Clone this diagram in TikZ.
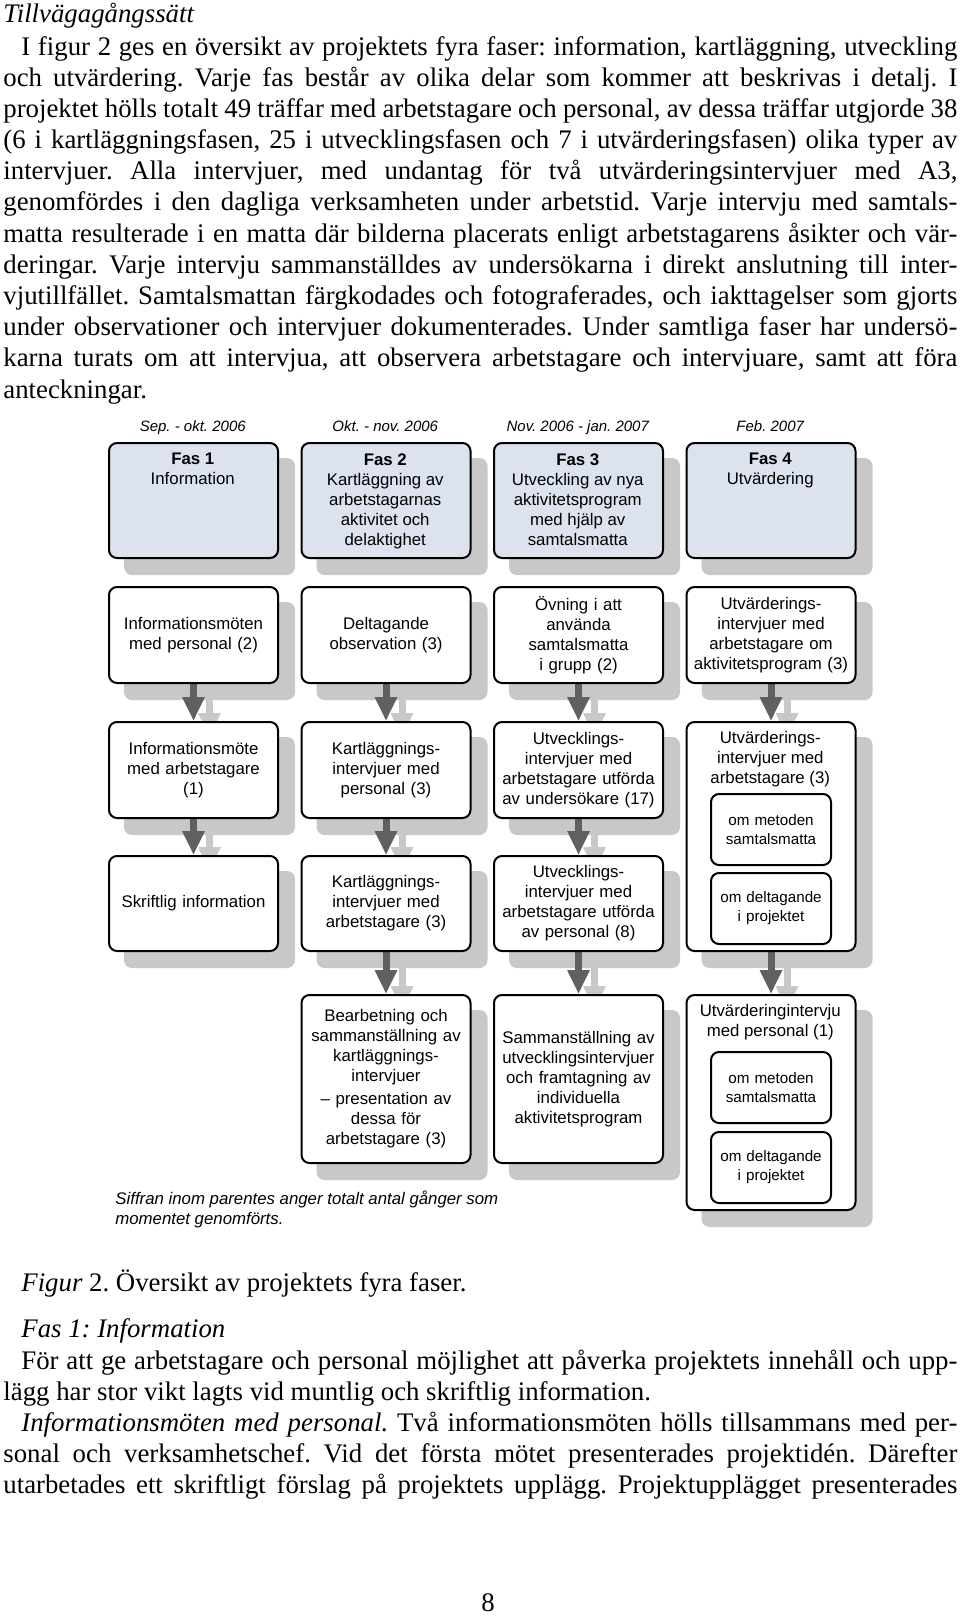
\documentclass[tikz,border=0pt]{standalone}
\usepackage{fontspec}
\setmainfont{Liberation Serif}
\setsansfont{Liberation Sans}
\usetikzlibrary{arrows.meta}
\definecolor{shadowc}{RGB}{200,200,200}
\definecolor{arrowc}{RGB}{96,96,96}
\definecolor{fasfill}{RGB}{220,227,238}
\pgfdeclarelayer{bg}
\pgfdeclarelayer{mid}
\pgfsetlayers{bg,mid,main}
\frenchspacing
\newcommand{\mybodyfont}{\fontsize{13.4}{15.6}\selectfont}
\tikzset{
 body/.style={anchor=base west, inner sep=0pt, font=\mybodyfont},
 boxbase/.style={draw=black, line width=1pt, rounded corners=4pt, fill=white, anchor=north west,
   minimum width=84.5pt, text width=82pt, align=center, inner sep=1.25pt,
   font=\sffamily\fontsize{8.4}{10}\selectfont},
 fasbox/.style={boxbase, fill=fasfill},
 stepbox/.style={boxbase},
 innerbox/.style={draw=black, line width=1pt, rounded corners=4pt, fill=white, anchor=north west,
   minimum width=60pt, minimum height=35.5pt, text width=58pt, align=center, inner sep=1pt,
   font=\sffamily\fontsize{7.6}{9.5}\selectfont},
 datelbl/.style={anchor=base, inner sep=0pt, font=\sffamily\itshape\fontsize{7.5}{9}\selectfont},
 titlelbl/.style={anchor=north, inner sep=0pt, align=center, font=\sffamily\fontsize{8.4}{10}\selectfont},
 notelbl/.style={anchor=base west, inner sep=0pt, font=\sffamily\itshape\fontsize{8.4}{10}\selectfont},
 mainarrow/.style={draw=arrowc, line width=3.5pt, -{Triangle[width=10.5pt,length=12pt]}},
 shadowarrow/.style={draw=shadowc, line width=3.5pt, -{Triangle[width=10.5pt,length=12pt]}},
}
\begin{document}
\frenchspacing
\begin{tikzpicture}[x=0.5pt,y=-0.5pt]
\useasboundingbox (0,0) rectangle (960,1617);
\begin{pgfonlayer}{bg}
\fill[white] (0,0) rectangle (960,1617);
\end{pgfonlayer}

% ---------- body text (top) ----------
\node[body] (p0) at (3,22) {\itshape Tillvägagångssätt};
\node[body] (p1) at (21,55) {\makebox[468pt][s]{I figur 2 ges en översikt av projektets fyra faser: information, kartläggning, utveckling}};
\node[body] (p2) at (3,86) {\makebox[477pt][s]{och utvärdering. Varje fas består av olika delar som kommer att beskrivas i detalj. I}};
\node[body] (p3) at (3,117.2) {\makebox[477pt][s]{projektet hölls totalt 49 träffar med arbetstagare och personal, av dessa träffar utgjorde 38}};
\node[body] (p4) at (3,148.4) {\makebox[477pt][s]{(6 i kartläggningsfasen, 25 i utvecklingsfasen och 7 i utvärderingsfasen) olika typer av}};
\node[body] (p5) at (3,179.6) {\makebox[477pt][s]{intervjuer. Alla intervjuer, med undantag för två utvärderingsintervjuer med A3,}};
\node[body] (p6) at (3,210.8) {\makebox[477pt][s]{genomfördes i den dagliga verksamheten under arbetstid. Varje intervju med samtals-}};
\node[body] (p7) at (3,242) {\makebox[477pt][s]{matta resulterade i en matta där bilderna placerats enligt arbetstagarens åsikter och vär-}};
\node[body] (p8) at (3,273.2) {\makebox[477pt][s]{deringar. Varje intervju sammanställdes av undersökarna i direkt anslutning till inter-}};
\node[body] (p9) at (3,304.4) {\makebox[477pt][s]{vjutillfället. Samtalsmattan färgkodades och fotograferades, och iakttagelser som gjorts}};
\node[body] (p10) at (3,335.6) {\makebox[477pt][s]{under observationer och intervjuer dokumenterades. Under samtliga faser har undersö-}};
\node[body] (p11) at (3,366.8) {\makebox[477pt][s]{karna turats om att intervjua, att observera arbetstagare och intervjuare, samt att föra}};
\node[body] (p12) at (3,398) {anteckningar.};

% ---------- dates ----------
\node[datelbl] (t1) at (192.75,431) {Sep. - okt. 2006};
\node[datelbl] (t2) at (385.25,431) {Okt. - nov. 2006};
\node[datelbl] (t3) at (577.75,431) {Nov. 2006 - jan. 2007};
\node[datelbl] (t4) at (770.25,431) {Feb. 2007};

% ---------- phase boxes ----------
\node[fasbox, minimum height=57.5pt] (f1) at (108,442) {};
\node[fasbox, minimum height=57.5pt] (f2) at (300.5,442) {};
\node[fasbox, minimum height=57.5pt] (f3) at (493,442) {};
\node[fasbox, minimum height=57.5pt] (f4) at (685.5,442) {};
\node[titlelbl] (f1t) at (192.75,453) {\textbf{Fas 1}\\Information};
\node[titlelbl] (f2t) at (385.25,453) {\textbf{Fas 2}\\Kartläggning av\\arbetstagarnas\\aktivitet och\\delaktighet};
\node[titlelbl] (f3t) at (577.75,453) {\textbf{Fas 3}\\Utveckling av nya\\aktivitetsprogram\\med hjälp av\\samtalsmatta};
\node[titlelbl] (f4t) at (770.25,453) {\textbf{Fas 4}\\Utvärdering};

% ---------- row 2 ----------
\node[stepbox, minimum height=48pt] (a1) at (108,586) {Informationsmöten\\med personal (2)};
\node[stepbox, minimum height=48pt] (a2) at (300.5,586) {Deltagande\\observation (3)};
\node[stepbox, minimum height=48pt] (a3) at (493,586) {Övning i att\\använda\\samtalsmatta\\i grupp (2)};
\node[stepbox, minimum height=48pt] (a4) at (685.5,586) {Utvärderings-\\intervjuer med\\arbetstagare om\\aktivitetsprogram (3)};

% ---------- row 3 ----------
\node[stepbox, minimum height=48pt] (b1) at (108,721) {Informationsmöte\\med arbetstagare\\(1)};
\node[stepbox, minimum height=48pt] (b2) at (300.5,721) {Kartläggnings-\\intervjuer med\\personal (3)};
\node[stepbox, minimum height=48pt] (b3) at (493,721) {Utvecklings-\\intervjuer med\\arbetstagare utförda\\av undersökare (17)};
\node[stepbox, minimum height=114.5pt] (b4) at (685.5,721) {};
\node[titlelbl] (b4t) at (770.25,731) {Utvärderings-\\intervjuer med\\arbetstagare (3)};
\node[innerbox] (b4i1) at (710,793) {om metoden\\samtalsmatta};
\node[innerbox] (b4i2) at (710,872) {om deltagande\\i projektet};

% ---------- row 4 ----------
\node[stepbox, minimum height=47.5pt] (c1) at (108,855) {Skriftlig information};
\node[stepbox, minimum height=47.5pt] (c2) at (300.5,855) {Kartläggnings-\\intervjuer med\\arbetstagare (3)};
\node[stepbox, minimum height=47.5pt] (c3) at (493,855) {Utvecklings-\\intervjuer med\\arbetstagare utförda\\av personal (8)};

% ---------- row 5 ----------
\node[stepbox, minimum height=84pt] (d2) at (300.5,994) {Bearbetning och\\sammanställning av\\kartläggnings-\\intervjuer\\[1.5pt]– presentation av\\dessa för\\arbetstagare (3)};
\node[stepbox, minimum height=84pt] (d3) at (493,994) {Sammanställning av\\utvecklingsintervjuer\\och framtagning av\\individuella\\aktivitetsprogram};
\node[stepbox, minimum height=107.5pt] (d4) at (685.5,994) {};
\node[titlelbl] (d4t) at (770.25,1004) {Utvärderingintervju\\med personal (1)};
\node[innerbox] (d4i1) at (710,1051) {om metoden\\samtalsmatta};
\node[innerbox] (d4i2) at (710,1131) {om deltagande\\i projektet};

% ---------- note ----------
\node[notelbl] (n1) at (115,1204) {Siffran inom parentes anger totalt antal gånger som};
\node[notelbl] (n2) at (115,1224) {momentet genomförts.};

% ---------- shadows ----------
\begin{pgfonlayer}{bg}
\foreach \n in {f1,f2,f3,f4,a1,a2,a3,a4,b1,b2,b3,b4,c1,c2,c3,d2,d3,d4}
  \fill[shadowc, rounded corners=4pt] ([shift={(16,16)}]\n.south west) rectangle ([shift={(16,16)}]\n.north east);
\foreach \s/\e in {a1/b1,b1/c1,a2/b2,b2/c2,c2/d2,a3/b3,b3/c3,c3/d3,a4/b4,b4/d4}
  \draw[shadowarrow] ([shift={(16,16)}]\s.south) -- ([shift={(16,16)}]\e.north);
\end{pgfonlayer}

% ---------- arrows ----------
\begin{pgfonlayer}{mid}
\foreach \s/\e in {a1/b1,b1/c1,a2/b2,b2/c2,c2/d2,a3/b3,b3/c3,c3/d3,a4/b4,b4/d4}
  \draw[mainarrow] (\s.south) -- (\e.north);
\end{pgfonlayer}

% ---------- body text (bottom) ----------
\node[body] (q0) at (21,1291) {\textit{Figur} 2. Översikt av projektets fyra faser.};
\node[body] (q1) at (21,1337) {\itshape Fas 1: Information};
\node[body] (q2) at (21,1369) {\makebox[468pt][s]{För att ge arbetstagare och personal möjlighet att påverka projektets innehåll och upp-}};
\node[body] (q3) at (3,1400) {lägg har stor vikt lagts vid muntlig och skriftlig information.};
\node[body] (q4) at (21,1431) {\makebox[468pt][s]{\textit{Informationsmöten med personal.} Två informationsmöten hölls tillsammans med per-}};
\node[body] (q5) at (3,1462) {\makebox[477pt][s]{sonal och verksamhetschef. Vid det första mötet presenterades projektidén. Därefter}};
\node[body] (q6) at (3,1493) {\makebox[477pt][s]{utarbetades ett skriftligt förslag på projektets upplägg. Projektupplägget presenterades}};
\node[body, anchor=base] (pg) at (488,1611) {8};
\end{tikzpicture}
\end{document}
